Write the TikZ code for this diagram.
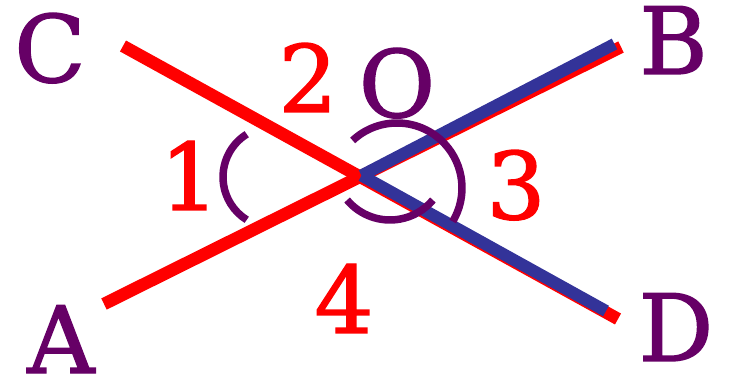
\documentclass[tikz,border=0pt]{standalone}
\usepackage{fontspec}
\setmainfont[FakeBold=1.5]{DejaVu Serif}
\definecolor{lblpurple}{RGB}{102,0,102}
\definecolor{segblue}{RGB}{51,51,153}
\definecolor{numred}{RGB}{255,0,0}
\begin{document}
\begin{tikzpicture}[x=1pt,y=1pt,
  ptlabel/.style={text=lblpurple,font=\fontsize{93}{93}\selectfont,inner sep=0pt,anchor=base},
  anglenum/.style={text=numred,font=\fontsize{93}{93}\selectfont,inner sep=0pt,anchor=base},
  redline/.style={draw=numred,line width=12.5pt},
  blueline/.style={draw=segblue,line width=12pt},
  anglemark/.style={draw=lblpurple,line width=7.5pt}]
\useasboundingbox (0,0) rectangle (732,378);
% points
\coordinate (O) at (360,201);
\coordinate (A) at (104,74);
\coordinate (B) at (621,331);
\coordinate (C) at (123,332);
\coordinate (D) at (618,59);
\coordinate (Ob) at (361.5,202.5);
\coordinate (Bb) at (614.5,334);
\coordinate (Db) at (606,67);
% lines
\draw[redline] (A) -- (B);
\draw[redline] (C) -- (D);
\draw[blueline] (Ob) -- (Bb);
\draw[blueline] (Ob) -- (Db);
% angle marks
\draw[anglemark] (273.5,201) ++(122:50.5) arc[start angle=122,end angle=238,radius=50.5];
\draw[anglemark] (397,190) ++(133:65) arc[start angle=133,end angle=-31,radius=65];
\draw[anglemark] (390,214) ++(220:56) arc[start angle=220,end angle=320,radius=56];
% labels
\node[ptlabel] (lC) at (50,296) {C};
\node[ptlabel] (lB) at (673.5,304) {B};
\node[ptlabel] (lA) at (61,5) {A};
\node[ptlabel] (lD) at (676,17) {D};
\node[ptlabel] (lO) at (397,261) {O};
\node[anglenum] (n1) at (189.5,168) {1};
\node[anglenum] (n2) at (308,266) {2};
\node[anglenum] (n3) at (516,159) {3};
\node[anglenum] (n4) at (344,45) {4};
\end{tikzpicture}
\end{document}
